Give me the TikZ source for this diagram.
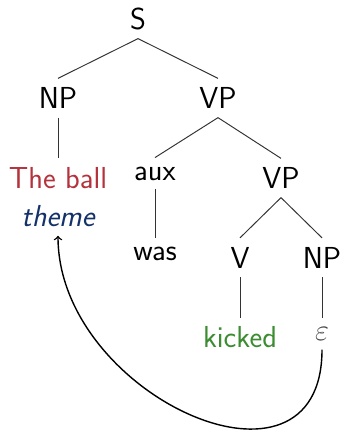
\documentclass[tikz,border=0pt]{standalone}
\usepackage{amsmath}
\usepackage{tikz}
\usetikzlibrary{arrows,positioning}
\definecolor{ballred}{RGB}{180,50,60}
\definecolor{themeblue}{RGB}{20,50,105}
\definecolor{kickgreen}{RGB}{60,140,50}
\newcommand{\gap}{\textcolor{black!72}{$\varepsilon$}}

\begin{document}
\begin{tikzpicture}[>=to, inner sep=0.175cm,
     every node/.style={font=\fontsize{17.28}{20}\selectfont\sffamily},
     branch/.style={draw=black!80, line width=0.55pt}]
    \useasboundingbox (0,0) rectangle (6.82,-8.64);
    \node (s) at (2.76, -0.37) {S};
    \node (np) at (1.16, -1.96) {NP};
    \node (vp) at (4.36, -1.96) {VP};
    \node[text=ballred] (ball) at (1.16, -3.56) {The ball};
    \node[text=themeblue] (theme) at (1.16, -4.32) {\itshape theme};
    \node (aux) at (3.10, -3.47) {aux};
    \node (vpb) at (5.62, -3.56) {VP};
    \node (was) at (3.10, -5.07) {was};
    \node (v) at (4.80, -5.15) {V};
    \node (npb) at (6.44, -5.15) {NP};
    \node[text=kickgreen] (kicked) at (4.80, -6.75) {kicked};
    \node (eps) at (6.44, -6.68) {\gap};
    \path[branch] (s.south) edge (np.north) edge (vp.north);
    \path[branch] (np.south) edge (ball.north);
    \path[branch] (vp.south) edge (aux.north) edge (vpb.north);
    \path[branch] (aux.south) edge (was.north);
    \path[branch] (vpb.south) edge (v.north) edge (npb.north);
    \path[branch] (v.south) edge (kicked.north);
    \path[branch] (npb.south) edge (eps.north);
    \draw[->, line width=0.8pt] (eps.south) .. controls +(0,-3.3) and +(0,-3.2) .. (theme.south);
\end{tikzpicture}
\end{document}
